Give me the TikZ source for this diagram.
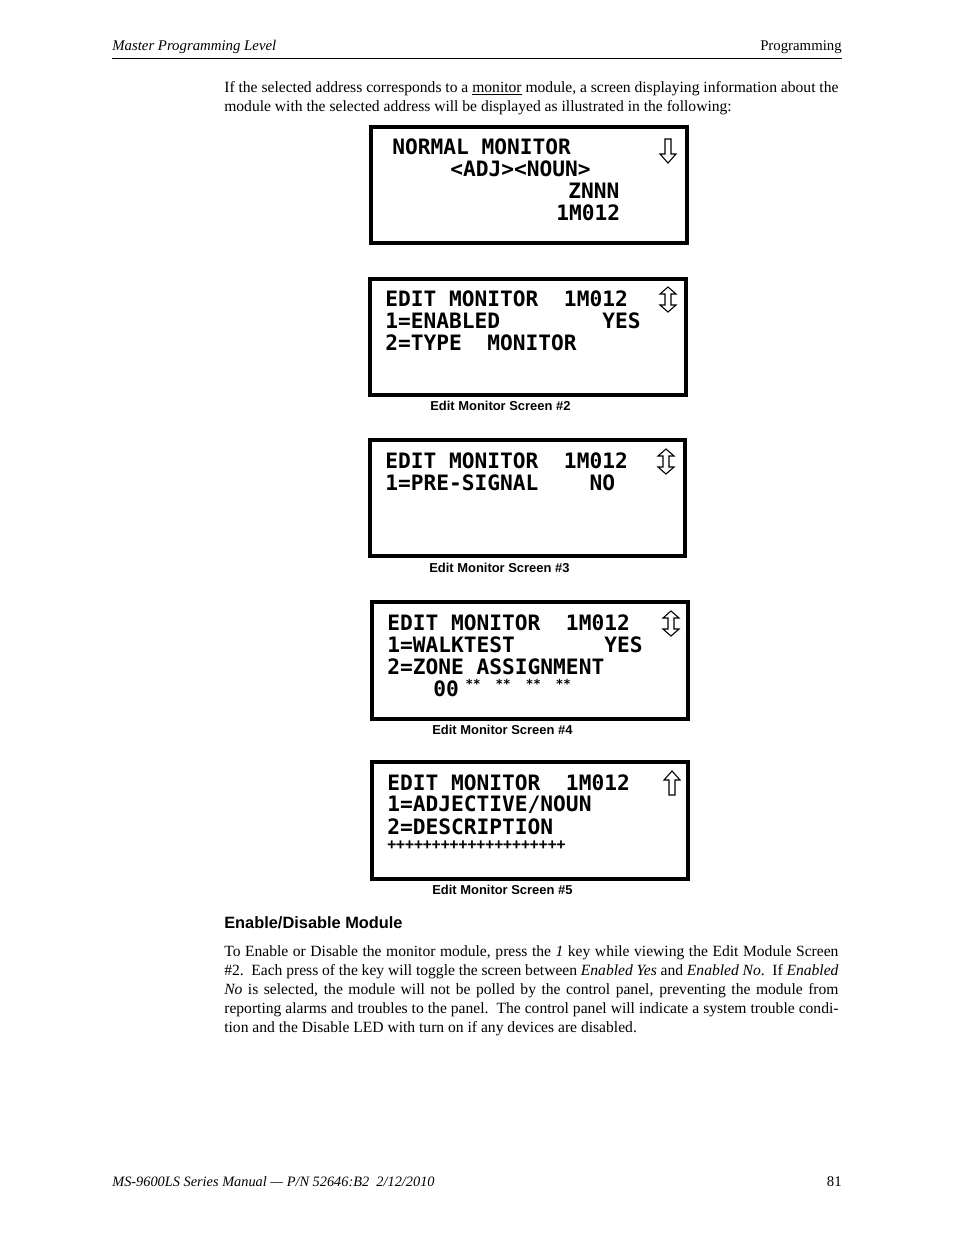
\documentclass[tikz,border=0pt]{standalone}
\usepackage{fontspec}
\setmainfont{Liberation Serif}
\setsansfont{Liberation Sans}
\newfontfamily\lcdfont{DejaVu Sans Mono Bold}
\usetikzlibrary{positioning}

\begin{document}
\begin{tikzpicture}[x=0.6415pt,y=-0.6415pt,
		% Define styles
		screen/.style={draw, line width=2.6pt},
		lcd/.style={anchor=west, inner sep=0pt, font=\lcdfont\fontsize{13.6}{14}\selectfont},
		small lcd/.style={anchor=west, inner sep=0pt, font=\lcdfont\fontsize{8}{9}\selectfont},
		caption/.style={anchor=west, inner sep=0pt, font=\sffamily\bfseries\fontsize{8.3}{10}\selectfont},
		body/.style={anchor=north west, inner sep=0pt, text width=394pt, align=justify,
			font=\fontsize{10}{12.2}\selectfont},
		hollow/.style={draw, line width=0.7pt, line join=miter}
		]
		\useasboundingbox (0,0) rectangle (954,1235);
		
		% ----- Header and footer -----
		\node[anchor=base west, inner sep=0pt, font=\itshape\fontsize{9.5}{11}\selectfont] (head-l) at (112,50) {Master Programming Level};
		\node[anchor=base east, inner sep=0pt, font=\fontsize{9.5}{11}\selectfont] (head-r) at (842,50) {Programming};
		\draw[line width=0.6pt] (112,58) -- (842,58);
		\node[anchor=base west, inner sep=0pt, font=\itshape\fontsize{9.2}{11}\selectfont] (foot-l) at (112,1186) {MS-9600LS Series Manual --- P/N 52646:B2\ \ 2/12/2010};
		\node[anchor=base east, inner sep=0pt, font=\fontsize{9.5}{11}\selectfont] (foot-r) at (842,1186) {81};
		
		% ----- Intro text -----
		\node[body] (intro) at (224,81) {If the selected address corresponds to a \underline{monitor} module, a screen displaying information about the\linebreak module with the selected address will be displayed as illustrated in the following:};
		
		% ----- Screen #1 -----
		\draw[screen] (371,127) rectangle (687,243);
		\node[lcd] (s1a) at (392,147) {NORMAL MONITOR};
		\node[lcd] (s1b) at (450,169) {<ADJ><NOUN>};
		\node[lcd] (s1c) at (568,191) {ZNNN};
		\node[lcd] (s1d) at (556,213) {1M012};
		\draw[hollow] (665,139) -- (671,139) -- (671,154) -- (676,154) -- (668,163) -- (660,154) -- (665,154) -- cycle;
		
		% ----- Screen #2 -----
		\draw[screen] (370,279) rectangle (686,395);
		\node[lcd] (s2a) at (385,299) {EDIT MONITOR~~1M012};
		\node[lcd] (s2b) at (385,321) {1=ENABLED~~~~~~~~YES};
		\node[lcd] (s2c) at (385,343) {2=TYPE~~MONITOR};
		\draw[hollow] (668,287) -- (676,294) -- (671,294) -- (671,305) -- (676,305) -- (668,312) -- (660,305) -- (665,305) -- (665,294) -- (660,294) -- cycle;
		\node[caption] (cap2) at (430,406) {Edit Monitor Screen \#2};
		
		% ----- Screen #3 -----
		\draw[screen] (370,440) rectangle (685,556);
		\node[lcd] (s3a) at (385,461) {EDIT MONITOR~~1M012};
		\node[lcd] (s3b) at (385,483) {1=PRE-SIGNAL~~~~NO};
		\draw[hollow] (666,449) -- (674,456) -- (669,456) -- (669,467) -- (674,467) -- (666,474) -- (658,467) -- (663,467) -- (663,456) -- (658,456) -- cycle;
		\node[caption] (cap3) at (429,568) {Edit Monitor Screen \#3};
		
		% ----- Screen #4 -----
		\draw[screen] (372,602) rectangle (688,719);
		\node[lcd] (s4a) at (387,623) {EDIT MONITOR~~1M012};
		\node[lcd] (s4b) at (387,645) {1=WALKTEST~~~~~~~YES};
		\node[lcd] (s4c) at (387,667) {2=ZONE ASSIGNMENT};
		\node[lcd] (s4d) at (433,689) {00};
		\node[small lcd, right=4pt of s4d.east, anchor=west, yshift=3pt] (s4e) {**\ \ **\ \ **\ \ **};
		\draw[hollow] (671,611) -- (679,618) -- (674,618) -- (674,629) -- (679,629) -- (671,636) -- (663,629) -- (668,629) -- (668,618) -- (663,618) -- cycle;
		\node[caption] (cap4) at (432,730) {Edit Monitor Screen \#4};
		
		% ----- Screen #5 -----
		\draw[screen] (372,762) rectangle (688,879);
		\node[lcd] (s5a) at (387,783) {EDIT MONITOR~~1M012};
		\node[lcd] (s5b) at (387,805) {1=ADJECTIVE/NOUN};
		\node[lcd] (s5c) at (387,827) {2=DESCRIPTION};
		\node[small lcd, font=\lcdfont\fontsize{9.5}{9}\selectfont] (s5d) at (387,845) {++++++++++++++++++++};
		\draw[hollow] (672,771) -- (680,780) -- (675,780) -- (675,795) -- (669,795) -- (669,780) -- (664,780) -- cycle;
		\node[caption] (cap5) at (432,890) {Edit Monitor Screen \#5};
		
		% ----- Section -----
		\node[anchor=base west, inner sep=0pt, font=\sffamily\bfseries\fontsize{10.5}{12}\selectfont] (sect) at (224,928) {Enable/Disable Module};
		\node[body] (para) at (224,945) {To Enable or Disable the monitor module, press the \textit{1} key while viewing the Edit Module Screen\linebreak \#2.\ \ Each press of the key will toggle the screen between \textit{Enabled Yes} and \textit{Enabled No}.\ \ If \textit{Enabled}\linebreak \textit{No} is selected, the module will not be polled by the control panel, preventing the module from\linebreak reporting alarms and troubles to the panel.\ \ The control panel will indicate a system trouble condi-\linebreak tion and the Disable LED with turn on if any devices are disabled.};
		
	\end{tikzpicture}
\end{document}
